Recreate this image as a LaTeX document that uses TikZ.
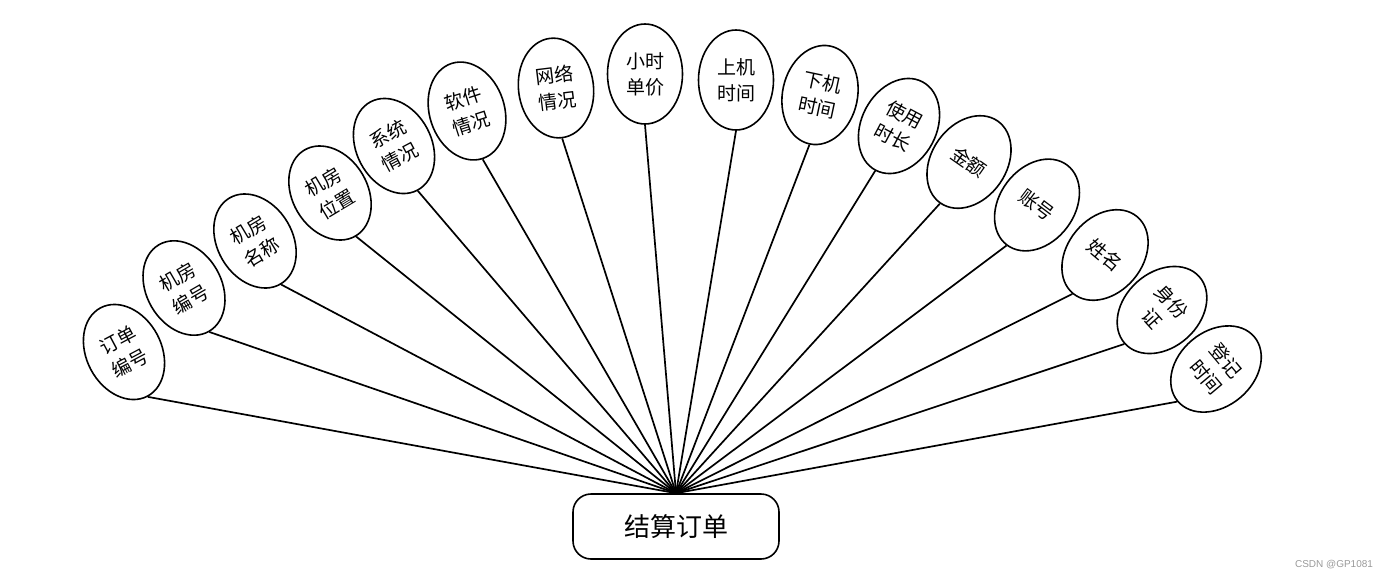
\documentclass[tikz,border=0pt]{standalone}
\usepackage{fontspec}
\newfontfamily\cjk{Noto Sans CJK SC}
\newfontfamily\wmfont{Liberation Sans}
\usetikzlibrary{shapes.geometric}
\begin{document}
\begin{tikzpicture}[x=1pt,y=-1pt,
  attr/.style={ellipse, draw, line width=1.6pt, minimum width=75pt, minimum height=100pt,
    inner sep=0pt, align=center, font=\cjk\fontsize{19}{26}\selectfont},
  link/.style={line width=1.7pt},
  mainbox/.style={draw, rounded corners=18pt, line width=1.6pt, minimum width=206pt,
    minimum height=65pt, inner sep=0pt, font=\cjk\fontsize{26}{30}\selectfont}]
\useasboundingbox (0,0) rectangle (1397,579);
\node[attr, rotate=28]  (a1)  at (124,352) {订单\\编号};
\node[attr, rotate=30]  (a2)  at (184,288) {机房\\编号};
\node[attr, rotate=31]  (a3)  at (255,241) {机房\\名称};
\node[attr, rotate=31]  (a4)  at (330,193) {机房\\位置};
\node[attr, rotate=28]  (a5)  at (394,146) {系统\\情况};
\node[attr, rotate=18]  (a6)  at (467,111) {软件\\情况};
\node[attr, rotate=7]   (a7)  at (556,88)  {网络\\情况};
\node[attr, rotate=0]   (a8)  at (645,74)  {小时\\单价};
\node[attr, rotate=0]   (a9)  at (736,80)  {上机\\时间};
\node[attr, rotate=-12] (a10) at (820,95)  {下机\\时间};
\node[attr, rotate=-28] (a11) at (899,126) {使用\\时长};
\node[attr, rotate=-35] (a12) at (969,162) {金额};
\node[attr, rotate=-37] (a13) at (1037,205) {账号};
\node[attr, rotate=-40] (a14) at (1105,255) {姓名};
\node[attr, rotate=-48] (a15) at (1162,310) {身份\\证};
\node[attr, rotate=-50] (a16) at (1216,369) {登记\\时间};
\node[mainbox] (main) at (676,526.5) {结算订单};
\foreach \i in {1,...,16} \draw[link] (a\i.south) -- (main.north);
\node[font=\wmfont\fontsize{10}{12}\selectfont, text=gray!80] (wm) at (1334,565) {CSDN @GP1081};
\end{tikzpicture}
\end{document}
